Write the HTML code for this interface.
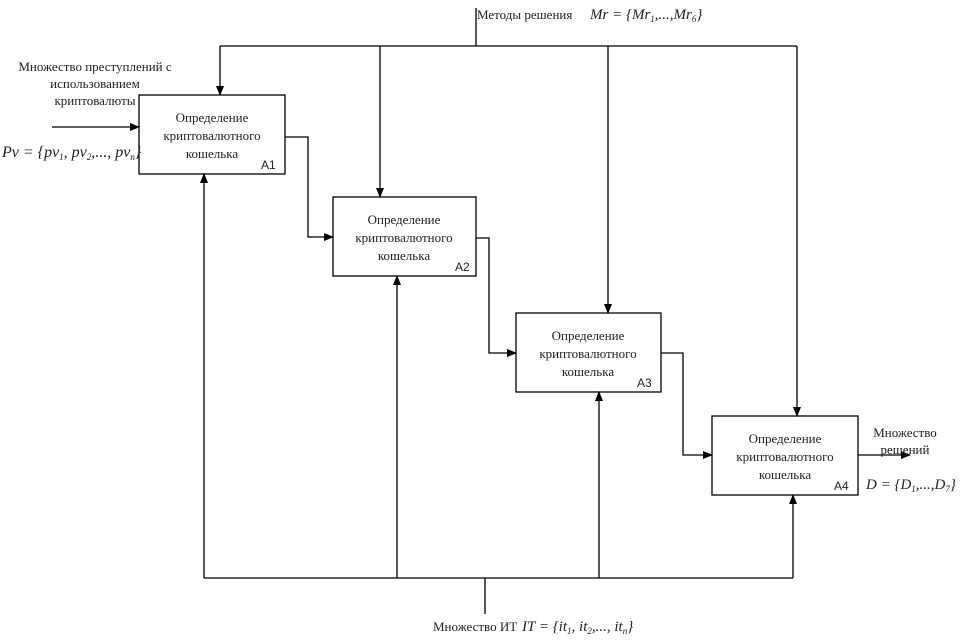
<!DOCTYPE html>
<html><head><meta charset="utf-8"><style>
body{margin:0;background:#fff}
svg text{font-family:"Liberation Serif",serif;fill:#222}
.s{font-family:"Liberation Sans",sans-serif}
.m{font-style:italic}
</style></head><body>
<svg width="961" height="638" viewBox="0 0 961 638" xmlns="http://www.w3.org/2000/svg">
<defs><marker id="a" markerWidth="10" markerHeight="8" refX="9" refY="4" orient="auto" markerUnits="userSpaceOnUse"><path d="M0,0 L10,4 L0,8 z" fill="#000"/></marker></defs>
<g fill="none" stroke="#000" stroke-width="1.3">
<rect x="139" y="95" width="146" height="79"/>
<rect x="333" y="197" width="143" height="79"/>
<rect x="516" y="313" width="145" height="79"/>
<rect x="712" y="416" width="146" height="79"/>
<path d="M476,8 V46 M220,46 H797"/>
<path d="M220,46 V95" marker-end="url(#a)"/>
<path d="M380,46 V197" marker-end="url(#a)"/>
<path d="M608,46 V313" marker-end="url(#a)"/>
<path d="M797,46 V416" marker-end="url(#a)"/>
<path d="M204,578 H793 M485,578 V614"/>
<path d="M204,578 V174" marker-end="url(#a)"/>
<path d="M397,578 V276" marker-end="url(#a)"/>
<path d="M599,578 V392" marker-end="url(#a)"/>
<path d="M793,578 V495" marker-end="url(#a)"/>
<path d="M52,127 H139" marker-end="url(#a)"/>
<path d="M285,137 H308 V237 H333" marker-end="url(#a)"/>
<path d="M476,238 H489 V353 H516" marker-end="url(#a)"/>
<path d="M661,353 H683 V455 H712" marker-end="url(#a)"/>
<path d="M858,455 H910" marker-end="url(#a)"/>
</g>
<g font-size="13" text-anchor="middle">
<text x="212" y="122">Определение</text><text x="212" y="140">криптовалютного</text><text x="212" y="158">кошелька</text>
<text x="404" y="224">Определение</text><text x="404" y="242">криптовалютного</text><text x="404" y="260">кошелька</text>
<text x="588" y="340">Определение</text><text x="588" y="358">криптовалютного</text><text x="588" y="376">кошелька</text>
<text x="785" y="443">Определение</text><text x="785" y="461">криптовалютного</text><text x="785" y="479">кошелька</text>
<text x="95" y="71">Множество преступлений с</text><text x="95" y="88">использованием</text><text x="95" y="105">криптовалюты</text>
<text x="905" y="437">Множество</text><text x="905" y="454">решений</text>
</g>
<g font-size="12" class="s">
<text class="s" x="261" y="169">A1</text><text class="s" x="455" y="271">A2</text>
<text class="s" x="637" y="387">A3</text><text class="s" x="834" y="490">A4</text>
</g>
<text x="477" y="19" font-size="13">Методы решения</text>
<text x="590" y="19" font-size="15" class="m">Mr = {Mr<tspan font-size="9" dy="3">1</tspan><tspan dy="-3">,...,Mr</tspan><tspan font-size="9" dy="3">6</tspan><tspan dy="-3">}</tspan></text>
<text x="2" y="157" font-size="16" class="m">Pv = {pv<tspan font-size="9" dy="3">1</tspan><tspan dy="-3">, pv</tspan><tspan font-size="9" dy="3">2</tspan><tspan dy="-3">,..., pv</tspan><tspan font-size="9" dy="3">n</tspan><tspan dy="-3">}</tspan></text>
<text x="866" y="489" font-size="15" class="m">D = {D<tspan font-size="9" dy="3">1</tspan><tspan dy="-3">,...,D</tspan><tspan font-size="9" dy="3">7</tspan><tspan dy="-3">}</tspan></text>
<text x="433" y="631" font-size="13">Множество ИТ</text>
<text x="522" y="631" font-size="15" class="m">IT = {it<tspan font-size="9" dy="3">1</tspan><tspan dy="-3">, it</tspan><tspan font-size="9" dy="3">2</tspan><tspan dy="-3">,..., it</tspan><tspan font-size="9" dy="3">n</tspan><tspan dy="-3">}</tspan></text>
</svg>
</body></html>
